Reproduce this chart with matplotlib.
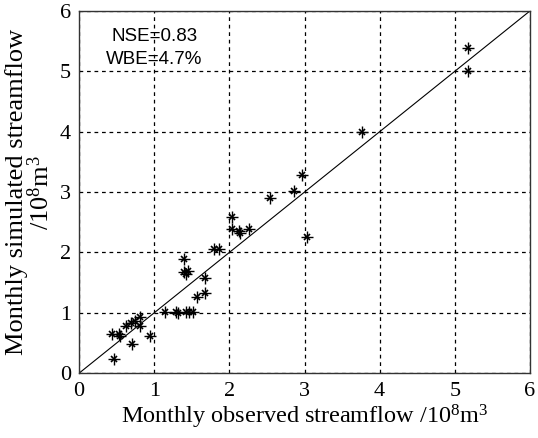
import matplotlib
matplotlib.use('Agg')
import matplotlib.pyplot as plt

plt.rcParams['mathtext.fontset'] = 'custom'
plt.rcParams['mathtext.rm'] = 'Liberation Serif'
plt.rcParams['mathtext.it'] = 'Liberation Serif:italic'

# observed vs simulated monthly streamflow (10^8 m^3)
observed = [0.46, 0.44, 0.53, 0.55, 0.62, 0.69, 0.71, 0.75, 0.81, 0.81, 0.95,
            1.14, 1.29, 1.32, 1.42, 1.46, 1.52, 1.57, 1.68, 1.68,
            1.39, 1.39, 1.42, 1.45, 1.80, 1.86, 2.03, 2.03, 2.13, 2.14, 2.26,
            2.54, 2.86, 2.97, 3.03, 3.76, 5.17, 5.17]
simulated = [0.24, 0.65, 0.65, 0.61, 0.78, 0.83, 0.49, 0.87, 0.93, 0.78, 0.62,
             1.02, 1.02, 0.99, 1.01, 1.01, 1.02, 1.26, 1.33, 1.58,
             1.89, 1.67, 1.65, 1.70, 2.06, 2.06, 2.58, 2.39, 2.36, 2.33, 2.39,
             2.90, 3.02, 3.28, 2.25, 4.00, 5.39, 5.01]

ticks = [0, 1, 2, 3, 4, 5, 6]
serif = ['Liberation Serif', 'DejaVu Serif']
unit = r'/10$^{\mathrm{8}}$m$^{\mathrm{3}}$'

fig = plt.figure(figsize=(5.38, 4.38), dpi=100)
ax = fig.add_axes([0.147, 0.148, 0.838, 0.827])

ax.plot([0, 6], [0, 6], 'k-', linewidth=0.8)
ax.plot(observed, simulated, 'k+', markersize=9, markeredgewidth=1.0)
ax.plot(observed, simulated, 'kx', markersize=4.5, markeredgewidth=1.2)

ax.set_xlim(0, 6)
ax.set_ylim(0, 6)
ax.set_xticks(ticks)
ax.set_yticks(ticks)
ax.grid(True, color='k', linestyle=(0, (3, 3)), linewidth=0.9)
ax.tick_params(direction='in', length=0, labelsize=16, pad=6)
for lab in ax.get_xticklabels() + ax.get_yticklabels():
    lab.set_family(serif)
for s in ax.spines.values():
    s.set_linewidth(1.0)
    s.set_color('#333333')

ax.text(1.0, 5.58, 'NSE=0.83', ha='center', va='center', fontsize=13.5,
        family=['Liberation Sans', 'DejaVu Sans'])
ax.text(1.0, 5.2, 'WBE=4.7%', ha='center', va='center', fontsize=13.5,
        family=['Liberation Sans', 'DejaVu Sans'])

ax.set_xlabel('Monthly observed streamflow ' + unit, fontsize=17.5,
              family=serif, labelpad=2)
ax.set_ylabel('Monthly simulated streamflow\n' + unit, fontsize=19,
              family=serif, labelpad=4, linespacing=1.0)

fig.savefig('out.png', dpi=100)
